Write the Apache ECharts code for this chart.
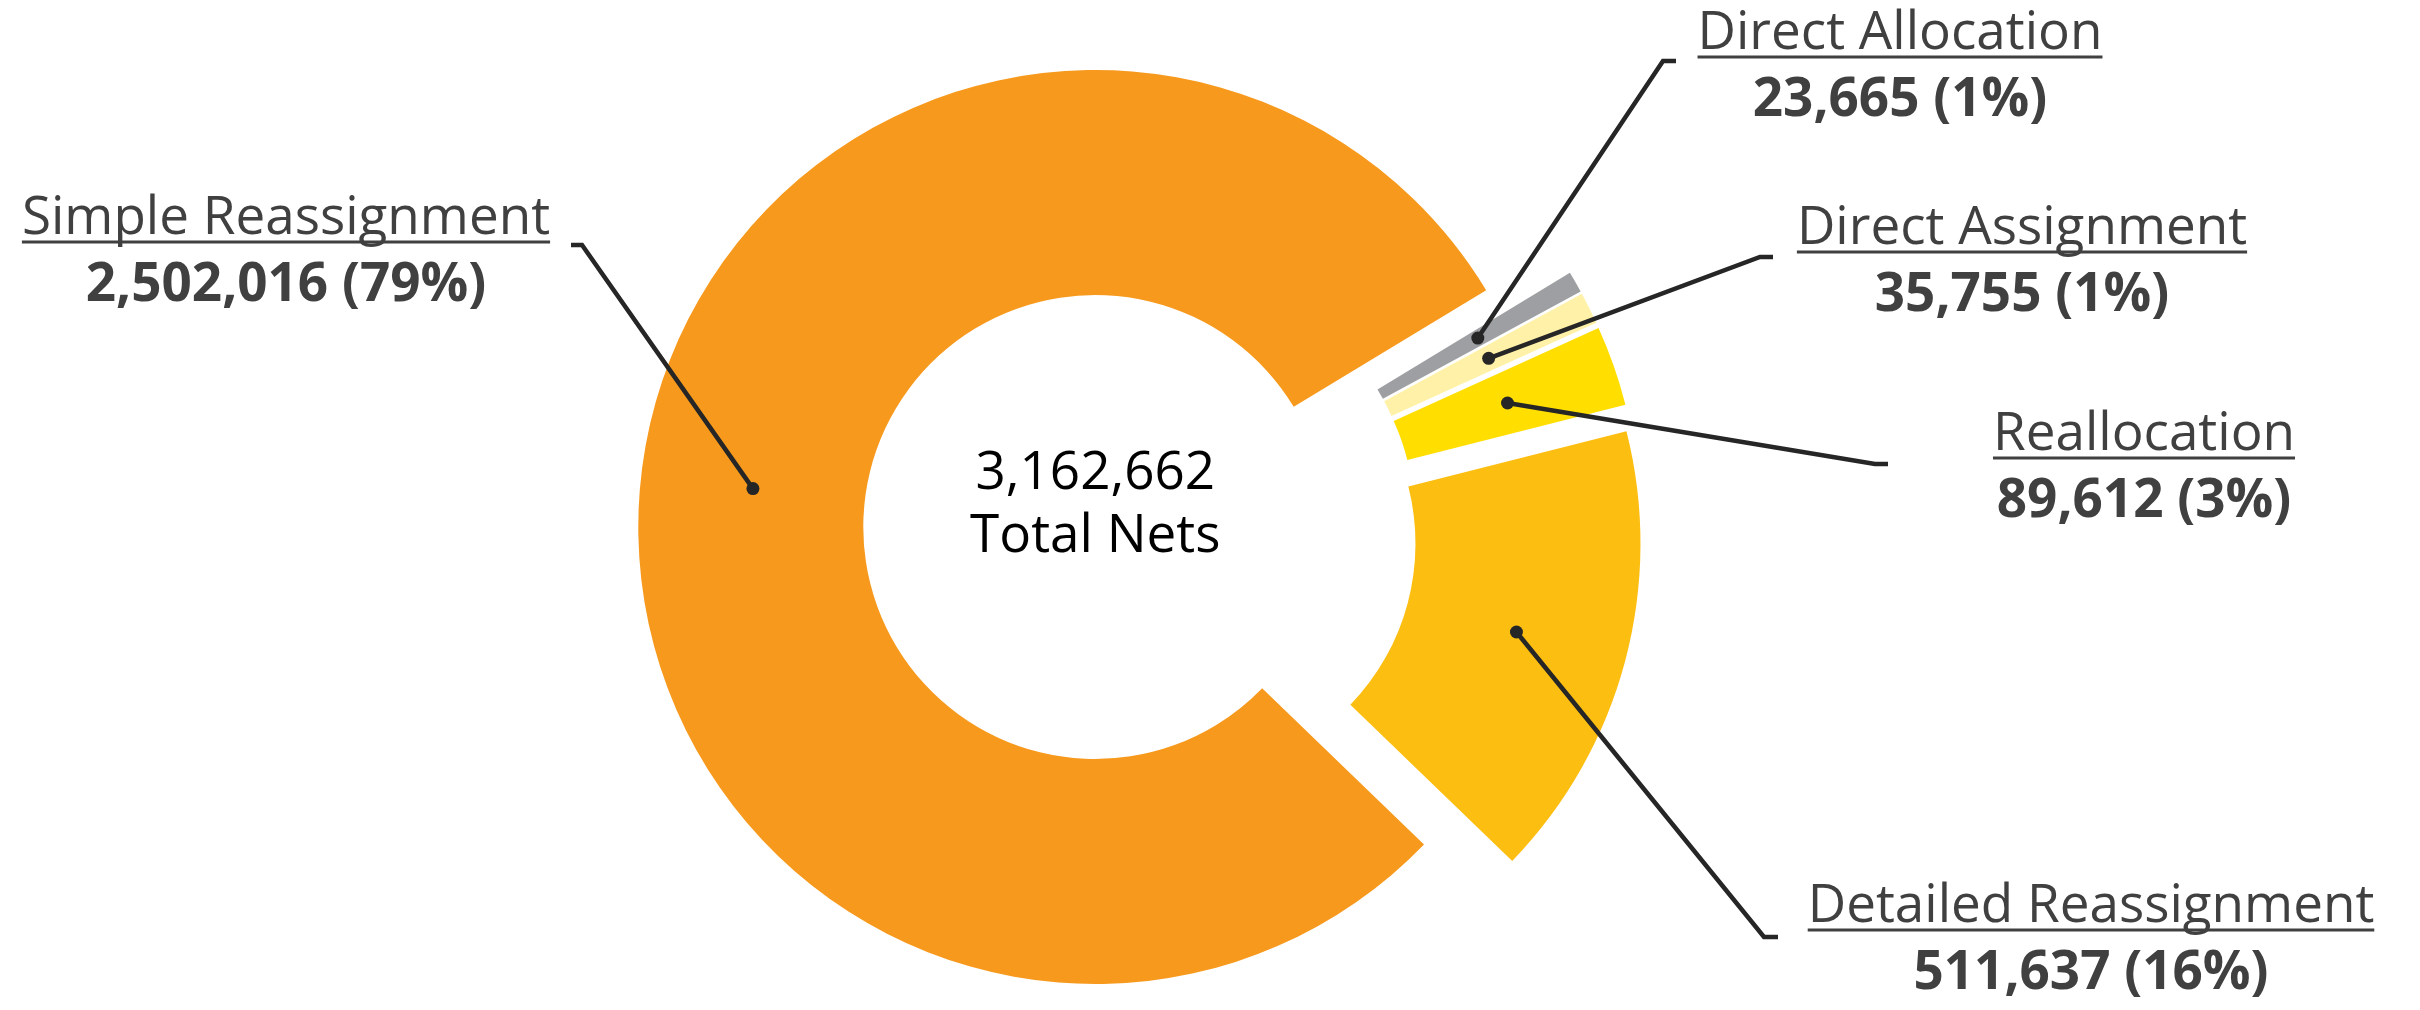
<!DOCTYPE html>
<html><head><meta charset="utf-8">
<script src="https://cdn.jsdelivr.net/npm/echarts@6/dist/echarts.min.js"></script>
<style>html,body{margin:0;padding:0;background:#fff}#c{width:2420px;height:1010px}</style>
</head><body><div id="c"></div>
<script>
// ---- data ----
const categories = ['Simple Reassignment', 'Direct Allocation', 'Direct Assignment', 'Reallocation', 'Detailed Reassignment'];
const netCounts = [2502016, 23665, 35755, 89612, 511637];
const totalLabel = '3,162,662';
const centerCaption = 'Total Nets';

// ---- style / layout ----
const sliceColors = ['#F7991C', '#9E9FA2', '#FFF2A8', '#FFDE00', '#FDBE12'];
const pieCenter = [1140, 532];
const radii = [232, 457];
const explode = 45;
const startAngle = 316;
const labelPlaces = [
  { elbow: [582, 245], tick: 571, x: 286, u: 242 },
  { elbow: [1663, 61], tick: 1676, x: 1900, u: 57 },
  { elbow: [1760, 257], tick: 1773, x: 2022, u: 252 },
  { elbow: [1875, 464], tick: 1888, x: 2144, u: 458 },
  { elbow: [1764, 937], tick: 1778, x: 2091, u: 930 }
];
const FONT = "'Open Sans', 'Noto Sans', sans-serif";
const FS = 53;
const textColor = '#404040';
const lineColor = '#262626';

const chart = echarts.init(document.getElementById('c'), null, { renderer: 'canvas' });
const total = netCounts.reduce((a, b) => a + b, 0);

function buildSeries(centers) {
  return categories.map((nm, si) => ({
    type: 'pie', radius: radii, center: centers[si], startAngle: startAngle, clockwise: true,
    animation: false, silent: true, avoidLabelOverlap: false, minAngle: 0,
    label: { show: false }, labelLine: { show: false }, emphasis: { disabled: true },
    data: categories.map((n, i) => ({
      name: n, value: netCounts[i],
      itemStyle: { color: sliceColors[i], opacity: i === si ? 1 : 0, borderWidth: 0 }
    }))
  }));
}

chart.setOption({ animation: false, series: buildSeries(categories.map(() => pieCenter)) });
const layoutOf = (i) => chart.getModel().getSeriesByIndex(i).getData().getItemLayout(i);
const mids = categories.map((n, i) => { const l = layoutOf(i); return (l.startAngle + l.endAngle) / 2; });
const centers = mids.map(m => [pieCenter[0] + explode * Math.cos(m), pieCenter[1] + explode * Math.sin(m)]);
chart.setOption({ series: buildSeries(centers) });

const ctx = document.createElement('canvas').getContext('2d');
ctx.font = FS + 'px ' + FONT;

const graphics = [];
categories.forEach((name, i) => {
  const l = layoutOf(i);
  const m = (l.startAngle + l.endAngle) / 2;
  const rm = (l.r0 + l.r) / 2;
  const ax = l.cx + rm * Math.cos(m), ay = l.cy + rm * Math.sin(m);
  const p = labelPlaces[i];
  graphics.push({
    type: 'polyline', silent: true, z: 10,
    shape: { points: [[ax, ay], p.elbow, [p.tick, p.elbow[1]]] },
    style: { stroke: lineColor, lineWidth: 4.5, fill: null, lineJoin: 'miter' }
  });
  graphics.push({ type: 'circle', silent: true, z: 11, shape: { cx: ax, cy: ay, r: 6.5 }, style: { fill: lineColor } });
  const w = ctx.measureText(name).width;
  graphics.push({
    type: 'text', silent: true, x: p.x, y: p.u - 23, z: 10,
    style: { text: name, fill: textColor, fontSize: FS, fontFamily: FONT, fontWeight: 'normal',
      align: 'center', verticalAlign: 'middle', textAlign: 'center', textVerticalAlign: 'middle' }
  });
  graphics.push({
    type: 'line', silent: true, z: 10,
    shape: { x1: p.x - w / 2, y1: p.u, x2: p.x + w / 2, y2: p.u },
    style: { stroke: textColor, lineWidth: 3 }
  });
  const pct = Math.round(netCounts[i] / total * 100);
  graphics.push({
    type: 'text', silent: true, x: p.x, y: p.u + 44, z: 10,
    style: { text: echarts.format.addCommas(netCounts[i]) + ' (' + pct + '%)', fill: textColor,
      fontSize: FS, fontFamily: FONT, fontWeight: 'bold',
      align: 'center', verticalAlign: 'middle', textAlign: 'center', textVerticalAlign: 'middle' }
  });
});
const l0 = layoutOf(0);
graphics.push({
  type: 'text', silent: true, x: l0.cx, y: 474, z: 10,
  style: { text: totalLabel, fill: '#000', fontSize: FS, fontFamily: FONT,
    align: 'center', verticalAlign: 'middle', textAlign: 'center', textVerticalAlign: 'middle' }
});
graphics.push({
  type: 'text', silent: true, x: l0.cx, y: 537, z: 10,
  style: { text: centerCaption, fill: '#000', fontSize: FS, fontFamily: FONT,
    align: 'center', verticalAlign: 'middle', textAlign: 'center', textVerticalAlign: 'middle' }
});
chart.setOption({ graphic: graphics });
</script></body></html>
